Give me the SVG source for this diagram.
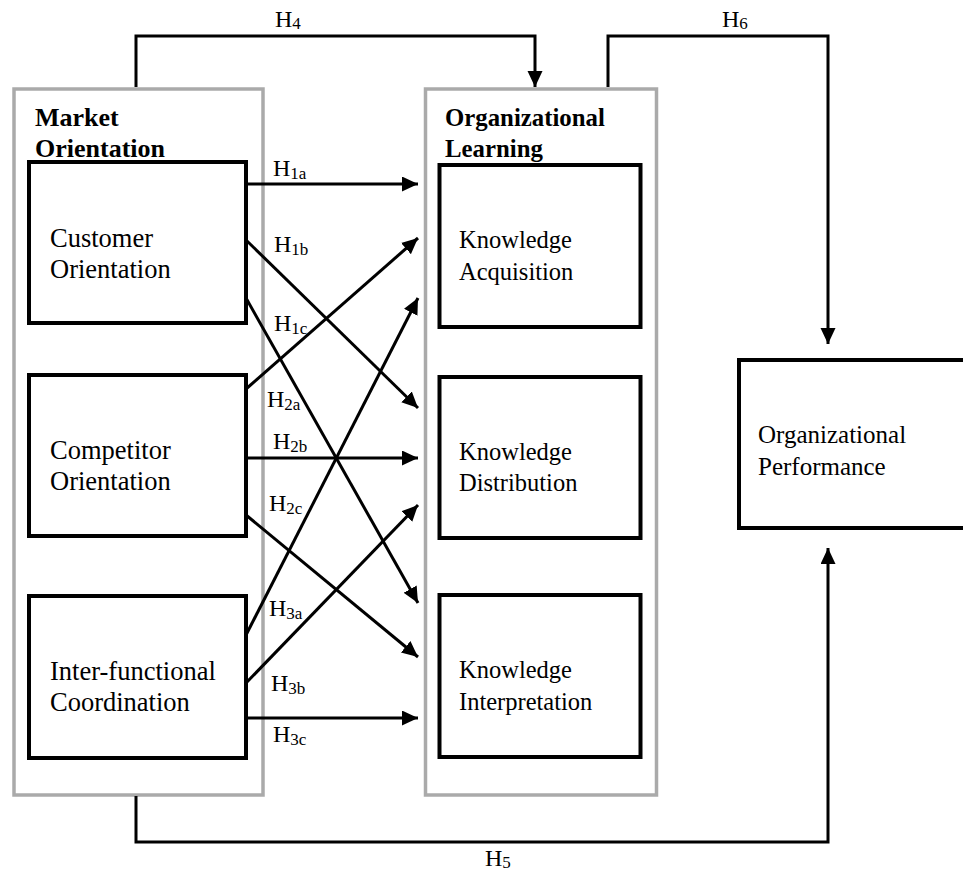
<svg xmlns="http://www.w3.org/2000/svg" width="963" height="871" viewBox="0 0 963 871">
<style>
.grp{fill:none;stroke:#aaaaaa;stroke-width:3.5}
.box{fill:#ffffff;stroke:#000000;stroke-width:4}
.t{font-family:'Liberation Serif','DejaVu Serif',serif;font-size:25px;fill:#000}
.tl{font-size:26.5px}
.tr{font-size:24.5px}
.h{font-family:'Liberation Serif','DejaVu Serif',serif;font-size:26px;font-weight:bold;fill:#000}
.h2{font-size:24.8px}
.lb{font-family:'Liberation Serif','DejaVu Serif',serif;font-size:24px;fill:#000}
.c{fill:none;stroke:#000;stroke-width:3}
.a{marker-end:url(#arr)}
</style>
<defs>
<marker id="arr" markerUnits="userSpaceOnUse" markerWidth="17" markerHeight="16" refX="16" refY="7.5" orient="auto">
<path d="M0,0 L16,7.5 L0,15 z" fill="#000"/>
</marker>
</defs>
<g id="market-orientation">
<rect class="grp" x="14" y="89" width="249" height="706"/>
</g>
<g id="organizational-learning">
<rect class="grp" x="425.5" y="89" width="231" height="706"/>
</g>
<g id="customer-orientation">
<rect class="box" x="29" y="162" width="217" height="161"/>
<text class="t tl" x="50" y="247">Customer</text>
<text class="t tl" x="50" y="278">Orientation</text>
</g>
<g id="competitor-orientation">
<rect class="box" x="29" y="375" width="217" height="161"/>
<text class="t tl" x="50" y="459">Competitor</text>
<text class="t tl" x="50" y="490">Orientation</text>
</g>
<g id="interfunctional-coordination">
<rect class="box" x="29" y="596" width="217" height="162"/>
<text class="t tl" x="50" y="680">Inter-functional</text>
<text class="t tl" x="50" y="711">Coordination</text>
</g>
<g id="knowledge-acquisition">
<rect class="box" x="439.5" y="165" width="201" height="162"/>
<text class="t tr" x="459" y="248">Knowledge</text>
<text class="t tr" x="459" y="280">Acquisition</text>
</g>
<g id="knowledge-distribution">
<rect class="box" x="439.5" y="377" width="201" height="161"/>
<text class="t tr" x="459" y="460">Knowledge</text>
<text class="t tr" x="459" y="491">Distribution</text>
</g>
<g id="knowledge-interpretation">
<rect class="box" x="439.5" y="595" width="201" height="162"/>
<text class="t tr" x="459" y="678">Knowledge</text>
<text class="t tr" x="459" y="710">Interpretation</text>
</g>
<g id="organizational-performance">
<rect class="box" x="739" y="360" width="232" height="168"/>
<text class="t" x="758" y="443">Organizational</text>
<text class="t" x="758" y="475">Performance</text>
</g>
<g id="headings">
<text class="h" x="35" y="126">Market</text>
<text class="h" x="35" y="157">Orientation</text>
<text class="h h2" x="445" y="126">Organizational</text>
<text class="h h2" x="445" y="157">Learning</text>
</g>
<g id="connectors">
<polyline class="c a" points="136,87 136,36 535,36 535,87"/>
<polyline class="c a" points="608,87 608,36 828,36 828,344"/>
<polyline class="c a" points="136,796 136,842 828,842 828,548"/>
<line class="c a" x1="246" y1="184" x2="418" y2="184"/>
<line class="c a" x1="246" y1="240" x2="418" y2="408"/>
<line class="c a" x1="246" y1="298" x2="418" y2="603"/>
<line class="c a" x1="246" y1="389" x2="418" y2="238"/>
<line class="c a" x1="246" y1="458" x2="418" y2="458"/>
<line class="c a" x1="246" y1="515" x2="418" y2="657"/>
<line class="c a" x1="246" y1="635" x2="418" y2="298"/>
<line class="c a" x1="246" y1="683" x2="418" y2="505"/>
<line class="c a" x1="246" y1="718" x2="418" y2="718"/>
</g>
<g id="labels">
<text class="lb" x="275" y="27">H<tspan font-size="17" dy="2">4</tspan></text>
<text class="lb" x="722" y="27">H<tspan font-size="17" dy="2">6</tspan></text>
<text class="lb" x="485" y="866">H<tspan font-size="17" dy="2">5</tspan></text>
<text class="lb" x="273" y="176">H<tspan font-size="17" dy="3">1a</tspan></text>
<text class="lb" x="274" y="252">H<tspan font-size="17" dy="3">1b</tspan></text>
<text class="lb" x="274" y="331">H<tspan font-size="17" dy="3">1c</tspan></text>
<text class="lb" x="267" y="407">H<tspan font-size="17" dy="3">2a</tspan></text>
<text class="lb" x="273" y="449">H<tspan font-size="17" dy="3">2b</tspan></text>
<text class="lb" x="269" y="511">H<tspan font-size="17" dy="3">2c</tspan></text>
<text class="lb" x="269" y="616">H<tspan font-size="17" dy="3">3a</tspan></text>
<text class="lb" x="271" y="691">H<tspan font-size="17" dy="3">3b</tspan></text>
<text class="lb" x="273" y="742">H<tspan font-size="17" dy="3">3c</tspan></text>
</g>
</svg>
